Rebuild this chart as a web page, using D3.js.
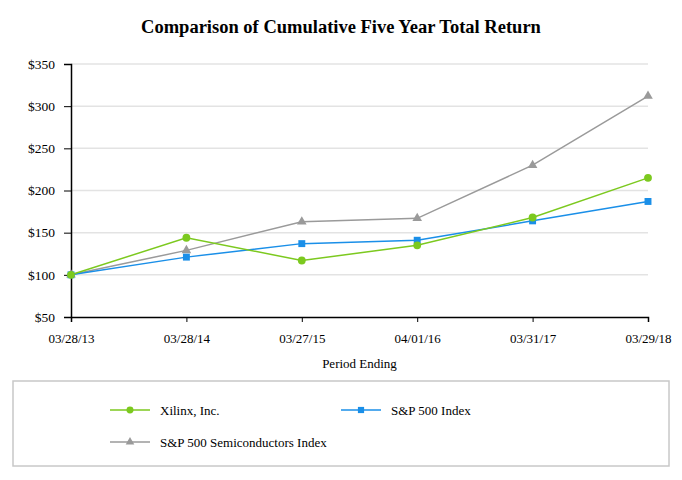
<!DOCTYPE html>
<html><head><meta charset="utf-8">
<script src="https://cdn.jsdelivr.net/npm/d3@7"></script>
<style>body{margin:0;background:#fff}svg{display:block}
svg text{font-family:"Liberation Serif","Times New Roman","DejaVu Serif",serif !important;fill:#000}</style>
</head><body><svg id="c" width="682" height="480"></svg>
<script>
const periods = ["03/28/13","03/28/14","03/27/15","04/01/16","03/31/17","03/29/18"];
const xilinx = [100,144,117,135,168,215];
const sp500 = [100,121,137,141,164,187];
const semis = [100,129,163,167,230,312];
const yTicks = [50,100,150,200,250,300,350];
const seriesNames = ["Xilinx, Inc.","S&P 500 Index","S&P 500 Semiconductors Index"];
const colors = ["#7cc91f","#1a8fe8","#9a9a9a"];

const svg = d3.select("#c");
const m = {l:71, r:34, t:64, b:163};
const W = 682, H = 480;
const x = d3.scalePoint().domain(periods).range([m.l, W - m.r]);
const y = d3.scaleLinear().domain([50,350]).range([H - m.b, m.t]);

svg.append("text").attr("x",341).attr("y",33).attr("text-anchor","middle")
  .attr("font-size",18.5).attr("font-weight","bold").text("Comparison of Cumulative Five Year Total Return");

svg.append("g").selectAll("line").data(yTicks.slice(1)).join("line")
  .attr("x1",m.l).attr("x2",W-m.r).attr("y1",d=>y(d)).attr("y2",d=>y(d))
  .attr("stroke","#e3e3e3").attr("stroke-width",1.5);

const yAx = svg.append("g").attr("transform",`translate(${m.l},0)`)
  .call(d3.axisLeft(y).tickValues(yTicks).tickFormat(d=>"$"+d).tickSize(7).tickPadding(9));
yAx.select(".domain").attr("stroke","#000").attr("stroke-width",1.5);
yAx.selectAll("text").attr("font-size",13.5);

const xAx = svg.append("g").attr("transform",`translate(0,${y(50)})`)
  .call(d3.axisBottom(x).tickSize(5).tickPadding(12));
xAx.select(".domain").attr("stroke","#000").attr("stroke-width",1.5);
xAx.selectAll("text").attr("font-size",13);

svg.append("text").attr("x",(m.l+W-m.r)/2).attr("y",368).attr("text-anchor","middle")
  .attr("font-size",13).text("Period Ending");

const data = [xilinx, sp500, semis];
const line = d3.line().x((d,i)=>x(periods[i])).y(d=>y(d));
const sym = [d3.symbolCircle, d3.symbolSquare, d3.symbolTriangle];
const sz = [48, 48, 40];
[2,1,0].forEach(k=>{
  svg.append("path").attr("d",line(data[k])).attr("fill","none").attr("stroke",colors[k]).attr("stroke-width",1.5);
});
[2,1,0].forEach(k=>{
  svg.append("g").selectAll("path").data(data[k]).join("path")
    .attr("transform",(d,i)=>`translate(${x(periods[i])},${y(d)})`)
    .attr("d",d3.symbol().type(sym[k]).size(sz[k])).attr("fill",colors[k]);
});

svg.append("rect").attr("x",13).attr("y",381).attr("width",656).attr("height",85)
  .attr("fill","none").attr("stroke","#c8c8c8").attr("stroke-width",1.5);
const legPos = [[110,410],[341,410],[110,442]];
legPos.forEach((p,k)=>{
  const g = svg.append("g").attr("transform",`translate(${p[0]},${p[1]})`);
  g.append("line").attr("x1",0).attr("x2",40).attr("stroke",colors[k]).attr("stroke-width",1.5);
  g.append("path").attr("transform","translate(20,0)").attr("d",d3.symbol().type(sym[k]).size(sz[k]*0.8)).attr("fill",colors[k]);
  g.append("text").attr("x",50).attr("y",5).attr("font-size",13).text(seriesNames[k]);
});
</script></body></html>
